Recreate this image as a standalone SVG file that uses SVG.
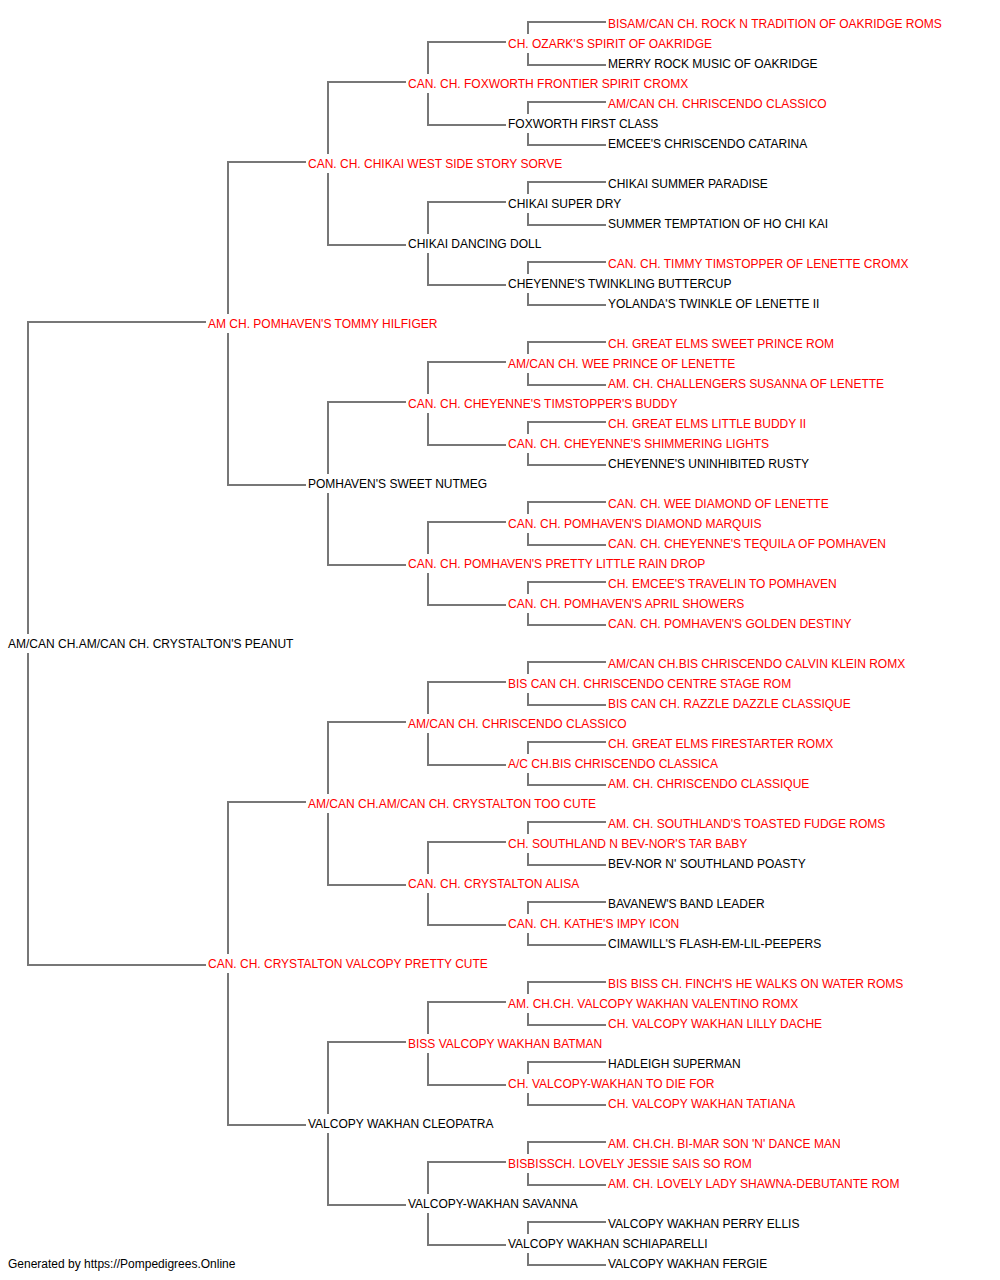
<svg xmlns="http://www.w3.org/2000/svg" width="1000" height="1280" viewBox="0 0 1000 1280">
<style>
text{font-family:"Liberation Sans",Arial,sans-serif;font-size:12px}
.r{fill:#ff0000}
.k{fill:#000000}
.c path{fill:none;stroke:#777777;stroke-width:2}
</style>
<rect width="1000" height="1280" fill="#ffffff"/>
<g class="c" id="connectors">
<path d="M606,22H528V34M528,53V65H606"/>
<path d="M606,102H528V114M528,133V145H606"/>
<path d="M606,182H528V194M528,213V225H606"/>
<path d="M606,262H528V274M528,293V305H606"/>
<path d="M606,342H528V354M528,373V385H606"/>
<path d="M606,422H528V434M528,453V465H606"/>
<path d="M606,502H528V514M528,533V545H606"/>
<path d="M606,582H528V594M528,613V625H606"/>
<path d="M606,662H528V674M528,693V705H606"/>
<path d="M606,742H528V754M528,773V785H606"/>
<path d="M606,822H528V834M528,853V865H606"/>
<path d="M606,902H528V914M528,933V945H606"/>
<path d="M606,982H528V994M528,1013V1025H606"/>
<path d="M606,1062H528V1074M528,1093V1105H606"/>
<path d="M606,1142H528V1154M528,1173V1185H606"/>
<path d="M606,1222H528V1234M528,1253V1265H606"/>
<path d="M506,42H428V74M428,93V125H506"/>
<path d="M506,202H428V234M428,253V285H506"/>
<path d="M506,362H428V394M428,413V445H506"/>
<path d="M506,522H428V554M428,573V605H506"/>
<path d="M506,682H428V714M428,733V765H506"/>
<path d="M506,842H428V874M428,893V925H506"/>
<path d="M506,1002H428V1034M428,1053V1085H506"/>
<path d="M506,1162H428V1194M428,1213V1245H506"/>
<path d="M406,82H328V154M328,173V245H406"/>
<path d="M406,402H328V474M328,493V565H406"/>
<path d="M406,722H328V794M328,813V885H406"/>
<path d="M406,1042H328V1114M328,1133V1205H406"/>
<path d="M306,162H228V314M228,333V485H306"/>
<path d="M306,802H228V954M228,973V1125H306"/>
<path d="M206,322H28V634M28,653V965H206"/>
</g>
<g id="n0"><text class="r" x="608" y="28">BISAM/CAN CH. ROCK N TRADITION OF OAKRIDGE ROMS</text></g>
<g id="n1"><text class="r" x="508" y="48">CH. OZARK'S SPIRIT OF OAKRIDGE</text></g>
<g id="n2"><text class="k" x="608" y="68">MERRY ROCK MUSIC OF OAKRIDGE</text></g>
<g id="n3"><text class="r" x="408" y="88">CAN. CH. FOXWORTH FRONTIER SPIRIT CROMX</text></g>
<g id="n4"><text class="r" x="608" y="108">AM/CAN CH. CHRISCENDO CLASSICO</text></g>
<g id="n5"><text class="k" x="508" y="128">FOXWORTH FIRST CLASS</text></g>
<g id="n6"><text class="k" x="608" y="148">EMCEE'S CHRISCENDO CATARINA</text></g>
<g id="n7"><text class="r" x="308" y="168">CAN. CH. CHIKAI WEST SIDE STORY SORVE</text></g>
<g id="n8"><text class="k" x="608" y="188">CHIKAI SUMMER PARADISE</text></g>
<g id="n9"><text class="k" x="508" y="208">CHIKAI SUPER DRY</text></g>
<g id="n10"><text class="k" x="608" y="228">SUMMER TEMPTATION OF HO CHI KAI</text></g>
<g id="n11"><text class="k" x="408" y="248">CHIKAI DANCING DOLL</text></g>
<g id="n12"><text class="r" x="608" y="268">CAN. CH. TIMMY TIMSTOPPER OF LENETTE CROMX</text></g>
<g id="n13"><text class="k" x="508" y="288">CHEYENNE'S TWINKLING BUTTERCUP</text></g>
<g id="n14"><text class="k" x="608" y="308">YOLANDA'S TWINKLE OF LENETTE II</text></g>
<g id="n15"><text class="r" x="208" y="328">AM CH. POMHAVEN'S TOMMY HILFIGER</text></g>
<g id="n16"><text class="r" x="608" y="348">CH. GREAT ELMS SWEET PRINCE ROM</text></g>
<g id="n17"><text class="r" x="508" y="368">AM/CAN CH. WEE PRINCE OF LENETTE</text></g>
<g id="n18"><text class="r" x="608" y="388">AM. CH. CHALLENGERS SUSANNA OF LENETTE</text></g>
<g id="n19"><text class="r" x="408" y="408">CAN. CH. CHEYENNE'S TIMSTOPPER'S BUDDY</text></g>
<g id="n20"><text class="r" x="608" y="428">CH. GREAT ELMS LITTLE BUDDY II</text></g>
<g id="n21"><text class="r" x="508" y="448">CAN. CH. CHEYENNE'S SHIMMERING LIGHTS</text></g>
<g id="n22"><text class="k" x="608" y="468">CHEYENNE'S UNINHIBITED RUSTY</text></g>
<g id="n23"><text class="k" x="308" y="488">POMHAVEN'S SWEET NUTMEG</text></g>
<g id="n24"><text class="r" x="608" y="508">CAN. CH. WEE DIAMOND OF LENETTE</text></g>
<g id="n25"><text class="r" x="508" y="528">CAN. CH. POMHAVEN'S DIAMOND MARQUIS</text></g>
<g id="n26"><text class="r" x="608" y="548">CAN. CH. CHEYENNE'S TEQUILA OF POMHAVEN</text></g>
<g id="n27"><text class="r" x="408" y="568">CAN. CH. POMHAVEN'S PRETTY LITTLE RAIN DROP</text></g>
<g id="n28"><text class="r" x="608" y="588">CH. EMCEE'S TRAVELIN TO POMHAVEN</text></g>
<g id="n29"><text class="r" x="508" y="608">CAN. CH. POMHAVEN'S APRIL SHOWERS</text></g>
<g id="n30"><text class="r" x="608" y="628">CAN. CH. POMHAVEN'S GOLDEN DESTINY</text></g>
<g id="n31"><text class="k" x="8" y="648">AM/CAN CH.AM/CAN CH. CRYSTALTON'S PEANUT</text></g>
<g id="n32"><text class="r" x="608" y="668">AM/CAN CH.BIS CHRISCENDO CALVIN KLEIN ROMX</text></g>
<g id="n33"><text class="r" x="508" y="688">BIS CAN CH. CHRISCENDO CENTRE STAGE ROM</text></g>
<g id="n34"><text class="r" x="608" y="708">BIS CAN CH. RAZZLE DAZZLE CLASSIQUE</text></g>
<g id="n35"><text class="r" x="408" y="728">AM/CAN CH. CHRISCENDO CLASSICO</text></g>
<g id="n36"><text class="r" x="608" y="748">CH. GREAT ELMS FIRESTARTER ROMX</text></g>
<g id="n37"><text class="r" x="508" y="768">A/C CH.BIS CHRISCENDO CLASSICA</text></g>
<g id="n38"><text class="r" x="608" y="788">AM. CH. CHRISCENDO CLASSIQUE</text></g>
<g id="n39"><text class="r" x="308" y="808">AM/CAN CH.AM/CAN CH. CRYSTALTON TOO CUTE</text></g>
<g id="n40"><text class="r" x="608" y="828">AM. CH. SOUTHLAND'S TOASTED FUDGE ROMS</text></g>
<g id="n41"><text class="r" x="508" y="848">CH. SOUTHLAND N BEV-NOR'S TAR BABY</text></g>
<g id="n42"><text class="k" x="608" y="868">BEV-NOR N' SOUTHLAND POASTY</text></g>
<g id="n43"><text class="r" x="408" y="888">CAN. CH. CRYSTALTON ALISA</text></g>
<g id="n44"><text class="k" x="608" y="908">BAVANEW'S BAND LEADER</text></g>
<g id="n45"><text class="r" x="508" y="928">CAN. CH. KATHE'S IMPY ICON</text></g>
<g id="n46"><text class="k" x="608" y="948">CIMAWILL'S FLASH-EM-LIL-PEEPERS</text></g>
<g id="n47"><text class="r" x="208" y="968">CAN. CH. CRYSTALTON VALCOPY PRETTY CUTE</text></g>
<g id="n48"><text class="r" x="608" y="988">BIS BISS CH. FINCH'S HE WALKS ON WATER ROMS</text></g>
<g id="n49"><text class="r" x="508" y="1008">AM. CH.CH. VALCOPY WAKHAN VALENTINO ROMX</text></g>
<g id="n50"><text class="r" x="608" y="1028">CH. VALCOPY WAKHAN LILLY DACHE</text></g>
<g id="n51"><text class="r" x="408" y="1048">BISS VALCOPY WAKHAN BATMAN</text></g>
<g id="n52"><text class="k" x="608" y="1068">HADLEIGH SUPERMAN</text></g>
<g id="n53"><text class="r" x="508" y="1088">CH. VALCOPY-WAKHAN TO DIE FOR</text></g>
<g id="n54"><text class="r" x="608" y="1108">CH. VALCOPY WAKHAN TATIANA</text></g>
<g id="n55"><text class="k" x="308" y="1128">VALCOPY WAKHAN CLEOPATRA</text></g>
<g id="n56"><text class="r" x="608" y="1148">AM. CH.CH. BI-MAR SON 'N' DANCE MAN</text></g>
<g id="n57"><text class="r" x="508" y="1168">BISBISSCH. LOVELY JESSIE SAIS SO ROM</text></g>
<g id="n58"><text class="r" x="608" y="1188">AM. CH. LOVELY LADY SHAWNA-DEBUTANTE ROM</text></g>
<g id="n59"><text class="k" x="408" y="1208">VALCOPY-WAKHAN SAVANNA</text></g>
<g id="n60"><text class="k" x="608" y="1228">VALCOPY WAKHAN PERRY ELLIS</text></g>
<g id="n61"><text class="k" x="508" y="1248">VALCOPY WAKHAN SCHIAPARELLI</text></g>
<g id="n62"><text class="k" x="608" y="1268">VALCOPY WAKHAN FERGIE</text></g>
<g id="footer"><text class="k" x="8" y="1268">Generated by https://Pompedigrees.Online</text></g>
</svg>
